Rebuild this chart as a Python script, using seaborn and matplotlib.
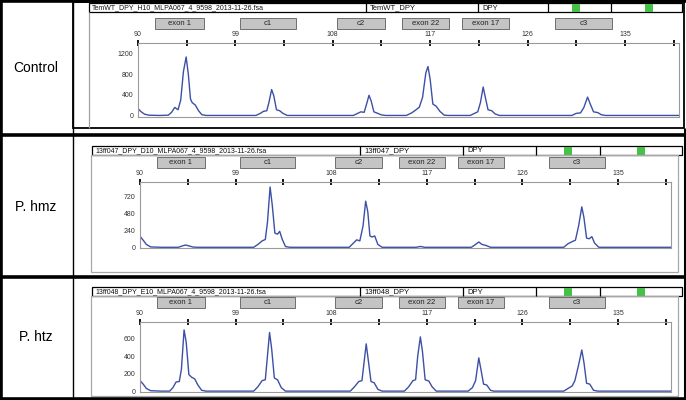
import numpy as np
import matplotlib
matplotlib.use("Agg")
import matplotlib.pyplot as plt
from matplotlib.lines import Line2D
from matplotlib.patches import Rectangle
import seaborn as sns

# ── Data (size in bp, signal in RFU) ───────────────────────
ctrl_bp = [90.0, 90.3, 90.6, 91.0, 92.0,
           92.8, 93.1, 93.4, 93.7, 93.95, 94.2, 94.45, 94.65, 94.85, 95.0, 95.3, 95.6, 95.9, 96.3,
           100.9, 101.3, 101.6, 101.9, 102.1, 102.35, 102.55, 102.8, 103.1, 103.4, 103.8,
           109.9, 110.3, 110.6, 110.9, 111.1, 111.35, 111.55, 111.8, 112.1, 112.5, 112.9,
           114.8, 115.3, 115.7, 116.0, 116.3, 116.6, 116.8, 117.0, 117.25, 117.55, 117.9, 118.3, 118.7,
           120.7, 121.1, 121.4, 121.65, 121.9, 122.1, 122.35, 122.7, 123.0, 123.4,
           130.1, 130.5, 130.9, 131.2, 131.55, 131.8, 132.1, 132.5, 132.8, 133.2,
           140.0]
ctrl_rfu = [130, 70, 25, 5, 0,
            5, 60, 155, 110, 300, 850, 1130, 800, 320, 250, 200, 90, 15, 0,
            0, 40, 80, 90, 250, 500, 380, 110, 90, 40, 0,
            0, 40, 70, 60, 200, 390, 280, 70, 45, 10, 0,
            0, 50, 110, 160, 350, 820, 945, 700, 220, 180, 80, 5, 0,
            0, 40, 70, 250, 550, 350, 110, 90, 30, 0,
            0, 40, 50, 150, 355, 220, 70, 55, 15, 0,
            0]

hmz_bp = [90.0, 90.3, 90.6, 91.0, 92.0,
          93.6, 94.0, 94.3, 94.6, 95.0, 95.5,
          100.7, 101.1, 101.5, 101.8, 102.0, 102.25, 102.45, 102.7, 102.95, 103.15, 103.4, 103.7, 104.1,
          109.7, 110.1, 110.4, 110.7, 111.0, 111.25, 111.45, 111.65, 111.85, 112.1, 112.4, 112.8,
          116.0, 116.4, 116.8,
          121.2, 121.6, 121.9, 122.2, 122.6, 123.0,
          129.9, 130.3, 130.7, 131.0, 131.3, 131.6, 131.8, 132.05, 132.3, 132.55, 132.8, 133.2,
          140.0]
hmz_rfu = [155, 100, 40, 5, 0,
           0, 20, 32, 20, 3, 0,
           0, 40, 90, 110, 350, 850, 600, 200, 185, 225, 110, 10, 0,
           0, 60, 105, 90, 300, 650, 500, 160, 145, 160, 40, 0,
           0, 12, 0,
           0, 40, 75, 40, 25, 0,
           0, 50, 80, 100, 300, 570, 420, 130, 120, 150, 60, 0,
           0]

htz_bp = [90.0, 90.3, 90.6, 91.0, 92.0,
          92.8, 93.1, 93.4, 93.7, 93.9, 94.15, 94.35, 94.6, 94.85, 95.15, 95.45, 95.8, 96.2,
          100.7, 101.1, 101.5, 101.8, 102.0, 102.2, 102.4, 102.65, 102.95, 103.3, 103.7,
          109.8, 110.2, 110.6, 110.9, 111.1, 111.3, 111.5, 111.75, 112.05, 112.4, 112.8,
          114.9, 115.3, 115.7, 115.95, 116.15, 116.4, 116.6, 116.85, 117.2, 117.5, 117.9,
          120.9, 121.3, 121.6, 121.9, 122.1, 122.35, 122.65, 123.0, 123.3,
          129.9, 130.3, 130.7, 130.95, 131.3, 131.6, 131.8, 132.05, 132.35, 132.7, 133.1,
          140.0]
htz_rfu = [120, 80, 30, 5, 0,
           0, 40, 105, 110, 250, 700, 560, 190, 160, 140, 70, 10, 0,
           0, 50, 120, 130, 400, 670, 480, 150, 130, 40, 0,
           0, 50, 110, 120, 330, 540, 350, 110, 95, 20, 0,
           0, 50, 120, 130, 400, 620, 450, 130, 115, 50, 0,
           0, 40, 120, 380, 250, 80, 70, 10, 0,
           0, 30, 60, 120, 300, 470, 330, 90, 80, 10, 0,
           0]

probe_names = ["exon 1", "c1", "c2", "exon 22", "exon 17", "c3"]
probe_start = [91.6, 99.4, 108.4, 114.4, 119.9, 128.5]
probe_end = [96.1, 104.6, 112.8, 118.7, 124.3, 133.8]

row_labels = ["Control", "P. hmz", "P. htz"]
file_names = ["TemWT_DPY_H10_MLPA067_4_9598_2013-11-26.fsa",
              "13ff047_DPY_D10_MLPA067_4_9598_2013-11-26.fsa",
              "13ff048_DPY_E10_MLPA067_4_9598_2013-11-26.fsa"]
sample_names = ["TemWT_DPY", "13ff047_DPY", "13ff048_DPY"]
y_major = [[0, 400, 800, 1200], [0, 240, 480, 720], [0, 200, 400, 600]]
x_major = [90, 99, 108, 117, 126, 135]

# ── Style ──────────────────────────────────────────────────
sns.set_style("white")
plt.rcParams["font.family"] = ["Liberation Sans", "DejaVu Sans"]

W, H = 686, 400
fig = plt.figure(figsize=(W / 100, H / 100), dpi=100)


def fx(px):
    return px / W


def fy(py):
    return 1 - py / H


def line(x0, y0, x1, y1, color="black", lw=1.0):
    fig.add_artist(Line2D([fx(x0), fx(x1)], [fy(y0), fy(y1)],
                          transform=fig.transFigure, color=color, lw=lw,
                          solid_capstyle="butt"))


def rect(x0, y0, x1, y1, fc="none", ec="black", lw=0.8):
    fig.add_artist(Rectangle((fx(x0), fy(y1)), (x1 - x0) / W, (y1 - y0) / H,
                             transform=fig.transFigure, facecolor=fc,
                             edgecolor=ec, lw=lw))


# layout per row (pixels)
rows = [
    dict(ax=(138, 679, 43, 117), ylim=(-30, 1200), head=(89, 682, 3, 12),
         divs=[366, 478, 548, 611], greens=[572, 645], label_y=68),
    dict(ax=(140, 671, 182, 248), ylim=(-10, 920), head=(92, 682, 146, 155),
         divs=[360, 463, 536, 600], greens=[564, 637], label_y=207),
    dict(ax=(140, 671, 322, 392), ylim=(-10, 790), head=(92, 682, 287, 296),
         divs=[360, 463, 536, 600], greens=[564, 637], label_y=337),
]
traces = [(ctrl_bp, ctrl_rfu), (hmz_bp, hmz_rfu), (htz_bp, htz_rfu)]

for i, (r, (bp, rfu)) in enumerate(zip(rows, traces)):
    left, right, top, bottom = r["ax"]
    ax = fig.add_axes([fx(left), fy(bottom), (right - left) / W, (bottom - top) / H])
    sns.lineplot(x=bp, y=rfu, ax=ax, color="#3d4fa6", lw=1.0)
    ax.set_xlim(90, 140)
    ax.set_ylim(*r["ylim"])
    ax.set_xticks(x_major)
    ax.set_xticks(np.arange(94.5, 140, 9), minor=True)
    ax.xaxis.tick_top()
    ax.tick_params(axis="x", which="both", direction="inout", length=5, width=1.3,
                   color="black", labelsize=5, pad=1, labelcolor="#333333")
    yt = y_major[i]
    step = yt[1] - yt[0]
    ax.set_yticks(yt)
    ax.set_yticks(np.arange(step / 2, yt[-1] + step, step), minor=True)
    ax.tick_params(axis="y", which="both", direction="out", length=2.5, width=0.8,
                   color="#888888", labelsize=5, pad=1, labelcolor="#333333")
    for s in ax.spines.values():
        s.set_color("#9a9a9a")
        s.set_linewidth(0.8)
    ax.set_xlabel("")
    ax.set_ylabel("")

    # probe boxes above the axis
    scale = (right - left) / 50.0
    for name, b0, b1 in zip(probe_names, probe_start, probe_end):
        x0 = left + (b0 - 90) * scale
        x1 = left + (b1 - 90) * scale
        rect(x0, top - 25, x1, top - 14, fc="#c4c4c4", ec="#6e6e6e", lw=0.7)
        fig.text(fx((x0 + x1) / 2), fy(top - 19.5), name, ha="center", va="center",
                 fontsize=5.5, color="#222222")

    # header bar
    hx0, hx1, hy0, hy1 = r["head"]
    rect(hx0, hy0, hx1, hy1, fc="white", ec="black", lw=0.9)
    for d in r["divs"]:
        line(d, hy0, d, hy1, lw=0.9)
    for g in r["greens"]:
        rect(g, hy0 + 1, g + 8, hy1 - 0.5, fc="#46c046", ec="none", lw=0)
    ym = fy((hy0 + hy1) / 2 + 0.5)
    fig.text(fx(hx0 + 3), ym, file_names[i], ha="left", va="center", fontsize=5, color="#111111")
    fig.text(fx(r["divs"][0] + 4), ym, sample_names[i], ha="left", va="center",
             fontsize=5.5, color="#111111")
    fig.text(fx(r["divs"][1] + 4), ym, "DPY", ha="left", va="center", fontsize=5.5,
             color="#111111")

    fig.text(fx(36), fy(r["label_y"]), row_labels[i], ha="center", va="center",
             fontsize=10, color="black")

# ── Frames ─────────────────────────────────────────────────
rect(73, 1.5, 684, 128, ec="black", lw=1.3)        # control box
line(89, 12, 89, 128, color="#a0a0a0", lw=0.9)
rect(91, 155, 678, 272, ec="#a8a8a8", lw=0.9)      # hmz panel
rect(91, 296, 678, 396, ec="#a8a8a8", lw=0.9)      # htz panel
line(73, 0, 73, 400, lw=1.0)
for yy in [1, 135, 276.5, 398.5]:
    line(0, yy, 686, yy, lw=2.6)
line(1, 0, 1, 400, lw=2.6)
line(685, 128, 685, 400, lw=2.2)

plt.savefig("out.png", dpi=100, facecolor="white")
plt.close()
